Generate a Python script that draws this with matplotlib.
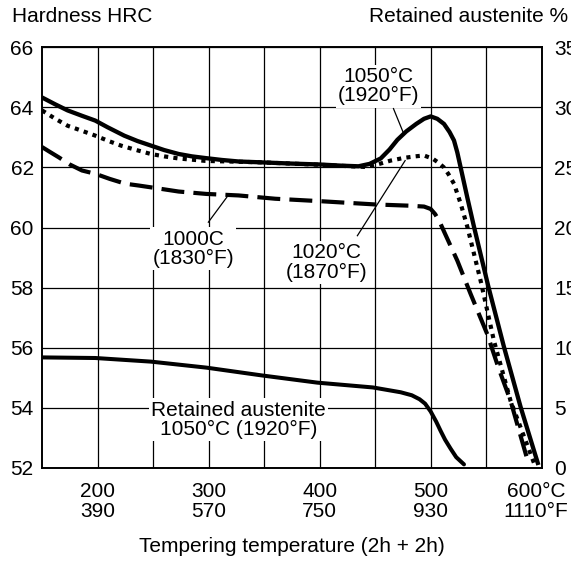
import matplotlib
matplotlib.use("Agg")
import matplotlib.pyplot as plt
from matplotlib.transforms import ScaledTranslation
import numpy as np

plt.rcParams['font.family'] = ['Liberation Sans', 'DejaVu Sans']

# Hardness curves (tempering temperature in °C, hardness HRC)
temp_1050 = [150, 162, 173, 186, 198, 209, 224, 236, 248, 260, 273, 285, 298, 312, 327, 348, 375, 400,
             420, 435, 445, 455, 463, 470, 478, 487, 494, 500, 506, 512, 517, 521, 524, 527,
             533, 539, 552, 566, 581, 597]
hrc_1050 = [64.33, 64.1, 63.9, 63.72, 63.56, 63.34, 63.06, 62.88, 62.73, 62.58, 62.45, 62.37, 62.31, 62.25, 62.2, 62.17, 62.13, 62.1,
            62.06, 62.04, 62.12, 62.3, 62.6, 62.92, 63.2, 63.45, 63.62, 63.7, 63.62, 63.45, 63.18, 62.9, 62.5, 62.0,
            61.0, 60.03, 58.03, 56.03, 54.03, 52.1]

temp_1020 = [150, 162, 173, 186, 198, 210, 221, 235, 248, 260, 273, 297, 348, 400, 440, 452, 464, 476,
             486, 494, 502, 507, 512, 516, 521, 527, 533, 545, 557, 572, 593]
hrc_1020 = [63.9, 63.62, 63.39, 63.22, 63.06, 62.88, 62.73, 62.58, 62.45, 62.37, 62.3, 62.22, 62.17, 62.09, 62.02, 62.1, 62.23, 62.32,
            62.37, 62.4, 62.29, 62.16, 62.0, 61.78, 61.46, 60.8, 60.03, 58.23, 56.23, 54.23, 52.17]

temp_1000 = [150, 157, 165, 175, 186, 198, 211, 225, 237, 248, 273, 298, 327, 360, 400, 450, 480, 494,
             500, 504, 508, 513, 524, 536, 551, 561, 572, 587]
hrc_1000 = [62.68, 62.52, 62.34, 62.1, 61.9, 61.79, 61.62, 61.46, 61.4, 61.34, 61.2, 61.12, 61.07, 60.96, 60.88, 60.77, 60.73, 60.7,
            60.62, 60.45, 60.2, 59.79, 58.9, 57.79, 56.45, 55.34, 54.23, 52.29]

# Retained austenite (%) after hardening from 1050°C
temp_ra = [150, 198, 248, 298, 348, 398, 448, 473, 483, 490, 495, 500, 505, 509, 513, 518, 523, 530]
ra_1050 = [9.2, 9.15, 8.85, 8.35, 7.7, 7.1, 6.7, 6.3, 6.05, 5.72, 5.35, 4.7, 3.85, 3.08, 2.35, 1.6, 0.9, 0.3]

x_major = [200, 300, 400, 500, 600]
x_labels = ["200\n390", "300\n570", "400\n750", "500\n930", "600°C\n1110°F"]
x_minor = [250, 350, 450, 550]
hrc_ticks = [52, 54, 56, 58, 60, 62, 64, 66]
ra_ticks = [0, 5, 10, 15, 20, 25, 30, 35]

fs = 15

fig = plt.figure(figsize=(5.71, 5.65), dpi=100)
ax = fig.add_axes([0.0736, 0.1717, 0.8751, 0.7446])

ax.plot(temp_1050, hrc_1050, color='black', lw=3.1, solid_capstyle='butt', zorder=3)
ax.plot(temp_1020, hrc_1020, color='black', lw=3.0, dashes=(1.0, 1.25),
        dash_capstyle='butt', zorder=3)
ax.plot(temp_1000, hrc_1000, color='black', lw=3.0, dashes=(5.5, 2.2),
        dash_capstyle='butt', zorder=3)

ax.set_xlim(150, 600)
ax.set_ylim(52, 66)
ax.set_xticks(x_major)
ax.set_xticklabels(x_labels, fontsize=fs, linespacing=1.05)
ax.set_xticks(x_minor, minor=True)
ax.set_yticks(hrc_ticks)
ax.set_yticklabels([str(v) for v in hrc_ticks], fontsize=fs)
ax.tick_params(axis='both', which='both', length=0)
ax.tick_params(axis='x', pad=10)
ax.tick_params(axis='y', pad=6)
ax.grid(True, which='both', color='black', lw=0.9)
ax.set_axisbelow(True)
for s in ax.spines.values():
    s.set_linewidth(1.2)

# shift last x label a little left so it fits
lbl = ax.get_xticklabels()[-1]
lbl.set_transform(lbl.get_transform() + ScaledTranslation(-4 / 72, 0, fig.dpi_scale_trans))

ax2 = ax.twinx()
ax2.plot(temp_ra, ra_1050, color='black', lw=2.9, solid_capstyle='round', zorder=3)
ax2.set_ylim(0, 35)
ax2.set_yticks(ra_ticks)
ax2.set_yticklabels([str(v) for v in ra_ticks], fontsize=fs)
ax2.tick_params(axis='y', length=0, pad=9)
for s in ax2.spines.values():
    s.set_linewidth(1.2)

box = dict(facecolor='white', edgecolor='none', pad=1.5)
ax.text(453, 64.71, "1050°C\n(1920°F)", ha='center', va='center', fontsize=fs,
        linespacing=1.05, bbox=box, zorder=4)
ax.plot([466.5, 476], [63.96, 63.1], color='black', lw=0.9, zorder=4)

ax.text(406.5, 58.84, "1020°C\n(1870°F)", ha='center', va='center', fontsize=fs,
        linespacing=1.05, bbox=box, zorder=4)
ax.plot([434, 477], [59.73, 62.23], color='black', lw=0.9, zorder=4)

ax.text(286.3, 59.29, "1000C\n(1830°F)", ha='center', va='center', fontsize=fs,
        linespacing=1.05, bbox=box, zorder=4)
ax.plot([299.8, 316.4], [60.18, 61.01], color='black', lw=0.9, zorder=4)

ax.text(327, 53.6, "Retained austenite\n1050°C (1920°F)", ha='center', va='center',
        fontsize=fs, linespacing=1.05, bbox=box, zorder=4)

fig.text(12 / 571, 1 - 17 / 565, "Hardness HRC", ha='left', va='center', fontsize=fs)
fig.text(568 / 571, 1 - 17 / 565, "Retained austenite %", ha='right', va='center', fontsize=fs)
ax.set_xlabel("Tempering temperature (2h + 2h)", fontsize=fs, labelpad=12)

fig.savefig("out.png", dpi=100)
